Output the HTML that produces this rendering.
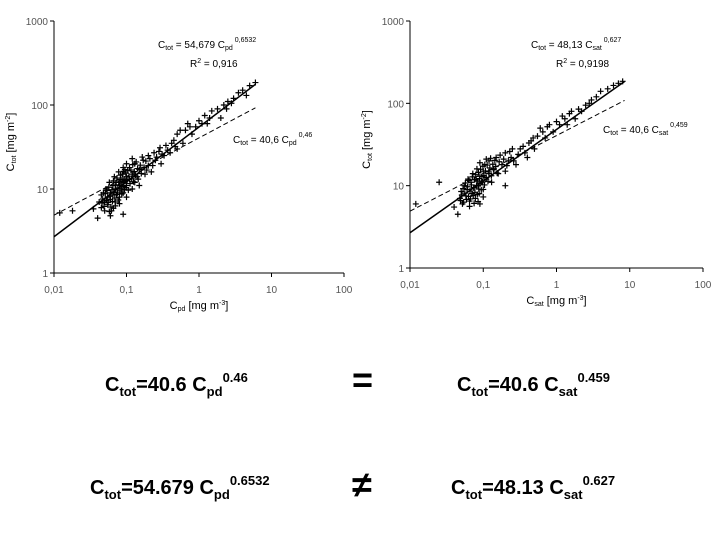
<!DOCTYPE html>
<html><head><meta charset="utf-8"><style>
body{margin:0;background:#fff;}
svg{display:block;font-family:"Liberation Sans",Arial,sans-serif;}
</style></head><body>
<svg id="s" width="720" height="540" viewBox="0 0 720 540">
<g id="left"></g>
<g id="right"></g>
<g font-size="10">
<text x="158" y="48">C<tspan font-size="7" dy="2">tot</tspan><tspan dy="-2"> = 54,679 C</tspan><tspan font-size="7" dy="2">pd</tspan><tspan font-size="7" dy="-8"> 0,6532</tspan></text>
<text x="190" y="67">R<tspan font-size="7" dy="-4">2</tspan><tspan dy="4"> = 0,916</tspan></text>
<text x="233" y="143">C<tspan font-size="7" dy="2">tot</tspan><tspan dy="-2"> = 40,6 C</tspan><tspan font-size="7" dy="2">pd</tspan><tspan font-size="7" dy="-8"> 0,46</tspan></text>
</g>
<g font-size="10">
<text x="531" y="48">C<tspan font-size="7" dy="2">tot</tspan><tspan dy="-2"> = 48,13 C</tspan><tspan font-size="7" dy="2">sat</tspan><tspan font-size="7" dy="-8"> 0,627</tspan></text>
<text x="556" y="67">R<tspan font-size="7" dy="-4">2</tspan><tspan dy="4"> = 0,9198</tspan></text>
<text x="603" y="133">C<tspan font-size="7" dy="2">tot</tspan><tspan dy="-2"> = 40,6 C</tspan><tspan font-size="7" dy="2">sat</tspan><tspan font-size="7" dy="-8"> 0,459</tspan></text>
</g>
<g font-size="20" font-weight="bold">
<text x="105" y="391">C<tspan font-size="13" dy="5">tot</tspan><tspan dy="-5">=40.6 C</tspan><tspan font-size="13" dy="5">pd</tspan><tspan font-size="13" dy="-14">0.46</tspan></text>
<text x="352" y="392" font-size="36">=</text>
<text x="457" y="391">C<tspan font-size="13" dy="5">tot</tspan><tspan dy="-5">=40.6 C</tspan><tspan font-size="13" dy="5">sat</tspan><tspan font-size="13" dy="-14">0.459</tspan></text>
<text x="90" y="494">C<tspan font-size="13" dy="5">tot</tspan><tspan dy="-5">=54.679 C</tspan><tspan font-size="13" dy="5">pd</tspan><tspan font-size="13" dy="-14">0.6532</tspan></text>
<text x="352" y="497" font-size="36">≠</text>
<text x="451" y="494">C<tspan font-size="13" dy="5">tot</tspan><tspan dy="-5">=48.13 C</tspan><tspan font-size="13" dy="5">sat</tspan><tspan font-size="13" dy="-14">0.627</tspan></text>
</g>
</svg>
<script>
const xTicks=["0,01","0,1","1","10","100"];
const yTicks=["1","10","100","1000"];
const leftPts=[[0.012,5.2],[0.018,5.5],[0.035,5.8],[0.04,4.5],[0.042,7],[0.045,6],[0.045,8.5],[0.048,9],[0.05,7],[0.05,5.5],[0.052,10],[0.055,8],[0.055,6.5],[0.058,12],[0.06,9],[0.06,7.5],[0.062,5.5],[0.065,11],[0.065,8.5],[0.068,14],[0.07,10],[0.07,7],[0.072,12],[0.075,9],[0.078,16],[0.08,11],[0.08,8],[0.082,13],[0.085,10],[0.088,15],[0.09,12],[0.09,9],[0.095,17],[0.1,11],[0.1,14],[0.1,8],[0.11,13],[0.11,18],[0.12,10],[0.12,15],[0.13,12],[0.13,20],[0.14,14],[0.15,17],[0.15,11],[0.17,22],[0.18,15],[0.2,19],[0.2,25],[0.22,16],[0.25,22],[0.28,28],[0.3,20],[0.33,25],[0.35,33],[0.4,27],[0.45,38],[0.5,30],[0.5,45],[0.55,50],[0.6,35],[0.7,60],[0.8,45],[0.9,55],[1,65],[1.2,75],[1.3,60],[1.5,85],[1.8,90],[2,70],[2.2,100],[2.5,110],[3,120],[3.5,140],[4,150],[4.5,130],[5,170],[6,185],[0.09,5],[0.06,4.8],
[0.046,6.8],[0.047,7.6],[0.049,6.2],[0.051,8.8],[0.053,7.3],[0.054,9.6],[0.056,6.9],[0.057,10.5],[0.059,8.2],[0.061,6.1],[0.063,9.8],[0.064,7.1],[0.066,12.5],[0.067,9.2],[0.069,7.8],[0.071,11.2],[0.073,8.6],[0.074,13.5],[0.076,10.3],[0.077,7.4],[0.079,12.1],[0.081,9.5],[0.083,14.6],[0.084,11.5],[0.086,8.7],[0.087,12.8],[0.089,10.7],[0.091,16.2],[0.092,13.1],[0.094,9.9],[0.096,12.4],[0.098,15.5],[0.099,10.4],[0.102,12.7],[0.104,16.5],[0.106,9.7],[0.108,14.2],[0.112,11.6],[0.115,16.8],[0.118,13.4],[0.122,19.5],[0.125,12.2],[0.128,16.1],[0.133,14.6],[0.136,21],[0.142,17.5],[0.145,13.1],[0.155,19.2],[0.16,15.3],[0.165,24],[0.175,18.1],[0.185,21.5],[0.19,16.8],[0.21,23],[0.23,19],[0.24,27],[0.26,24],[0.29,31],[0.31,26],[0.37,29],[0.42,35],[0.47,32],[0.65,50],[0.75,55],[1.1,60],[1.4,70],[2.4,90],[2.8,105],[0.058,5.4],[0.07,6.3],[0.08,6.7],[0.066,5.9],[0.1,20],[0.12,23],[0.09,18]];
const rightPts=[[0.012,6],[0.025,11],[0.04,5.5],[0.045,4.5],[0.048,7],[0.05,8.5],[0.052,6],[0.055,10],[0.058,7.5],[0.06,9],[0.062,12],[0.065,6.5],[0.068,11],[0.07,8],[0.072,14],[0.075,9.5],[0.078,7],[0.08,12],[0.082,16],[0.085,10],[0.088,8],[0.09,13],[0.095,11],[0.1,15],[0.1,9],[0.105,18],[0.11,12],[0.12,14],[0.12,20],[0.13,11],[0.14,16],[0.15,22],[0.16,14],[0.18,18],[0.2,25],[0.2,15],[0.22,20],[0.25,28],[0.28,18],[0.3,24],[0.35,30],[0.4,22],[0.45,35],[0.5,28],[0.55,40],[0.6,50],[0.7,38],[0.8,55],[0.9,45],[1,60],[1.2,70],[1.4,55],[1.6,80],[1.8,65],[2,85],[2.5,95],[3,110],[3.5,120],[4,140],[5,150],[6,165],[7,175],[8,185],[0.2,10],[0.09,6],
[0.049,6.6],[0.051,7.7],[0.053,9.2],[0.054,6.3],[0.056,8.1],[0.057,10.8],[0.059,6.8],[0.061,9.7],[0.063,7.4],[0.064,11.6],[0.066,8.6],[0.067,6.9],[0.069,10.2],[0.071,12.8],[0.073,7.6],[0.074,9.4],[0.076,11.8],[0.077,8.3],[0.079,13.6],[0.081,10.1],[0.083,7.8],[0.084,11.4],[0.086,14.5],[0.087,9.1],[0.089,12.2],[0.091,10.6],[0.092,15.8],[0.094,8.9],[0.096,12.9],[0.098,11.1],[0.099,17.2],[0.102,13.3],[0.104,10.2],[0.107,15.1],[0.109,12.6],[0.113,17.8],[0.116,11.3],[0.119,14.7],[0.123,16.4],[0.126,21.5],[0.129,13.2],[0.135,18.2],[0.138,15.6],[0.144,20.3],[0.148,17.1],[0.155,14.2],[0.165,19.5],[0.17,23.5],[0.19,21],[0.21,17.5],[0.23,26],[0.24,22],[0.26,20],[0.32,28],[0.37,25],[0.42,33],[0.48,38],[0.65,45],[0.75,52],[1.1,55],[1.3,65],[1.5,75],[2.2,80],[2.8,100],[0.065,5.6],[0.075,6.1],[0.085,6.4],[0.1,7.3],[0.11,21],[0.09,19]];
const leftFit={a:54.679,b:0.6532},leftRef={a:40.6,b:0.46};
const rightFit={a:48.13,b:0.627},rightRef={a:40.6,b:0.459};
const NS="http://www.w3.org/2000/svg";
function mk(t,a,p){const e=document.createElementNS(NS,t);for(const k in a)e.setAttribute(k,a[k]);p.appendChild(e);return e;}
function chart(g,x0,x1,yTop,yBot,pts,fit,ref,sub,xEnd){
 const sx=v=>x0+(Math.log10(v)+2)*(x1-x0)/4;
 const sy=v=>yBot-Math.log10(v)*(yBot-yTop)/3;
 let e=mk('line',{x1:x0,y1:yTop,x2:x0,y2:yBot,stroke:'#000','stroke-width':1},g);
 
 e=mk('line',{x1:x0,y1:yBot,x2:x1,y2:yBot,stroke:'#000','stroke-width':1},g);
 
 xTicks.forEach((t,i)=>{const x=sx(Math.pow(10,i-2));
  mk('line',{x1:x,y1:yBot,x2:x,y2:yBot+4,stroke:'#000'},g);
  e=mk('text',{x:x,y:yBot+20,'text-anchor':'middle','font-size':10,fill:'#555'},g);e.textContent=t;
  });
 yTicks.forEach((t,i)=>{const y=sy(Math.pow(10,i));
  mk('line',{x1:x0-4,y1:y,x2:x0,y2:y,stroke:'#000'},g);
  e=mk('text',{x:x0-6,y:y+4,'text-anchor':'end','font-size':10,fill:'#555'},g);e.textContent=t;
  });
 pts.forEach(p=>{const x=sx(p[0]),y=sy(p[1]);
  e=mk('path',{d:`M${x-3},${y}h6M${x},${y-3}v6`,stroke:'#000','stroke-width':1.2},g);
  });
 const xa=0.01;
 e=mk('line',{x1:sx(xa),y1:sy(fit.a*Math.pow(xa,fit.b)),x2:sx(xEnd),y2:sy(fit.a*Math.pow(xEnd,fit.b)),stroke:'#000','stroke-width':1.5},g);
 
 e=mk('line',{x1:sx(xa),y1:sy(ref.a*Math.pow(xa,ref.b)),x2:sx(xEnd),y2:sy(ref.a*Math.pow(xEnd,ref.b)),stroke:'#000','stroke-width':1,'stroke-dasharray':'5,3'},g);
 
 const cx=(x0+x1)/2;
 e=mk('text',{x:cx,y:yBot+36,'text-anchor':'middle','font-size':11},g);
 e.innerHTML=`C<tspan font-size="7" dy="2">${sub}</tspan><tspan dy="-2"> [mg m</tspan><tspan font-size="7" dy="-4">-3</tspan><tspan dy="4">]</tspan>`;
 
 const cy=(yTop+yBot)/2-5;
 e=mk('text',{x:0,y:0,'text-anchor':'middle','font-size':11,transform:`translate(${x0-40},${cy}) rotate(-90)`},g);
 e.innerHTML=`C<tspan font-size="7" dy="2">tot</tspan><tspan dy="-2"> [mg m</tspan><tspan font-size="7" dy="-4">-2</tspan><tspan dy="4">]</tspan>`;
 
}
chart(document.getElementById('left'),54,344,21,273,leftPts,leftFit,leftRef,'pd',6);
chart(document.getElementById('right'),410,703,21,268,rightPts,rightFit,rightRef,'sat',8.5);
</script>
</body></html>
